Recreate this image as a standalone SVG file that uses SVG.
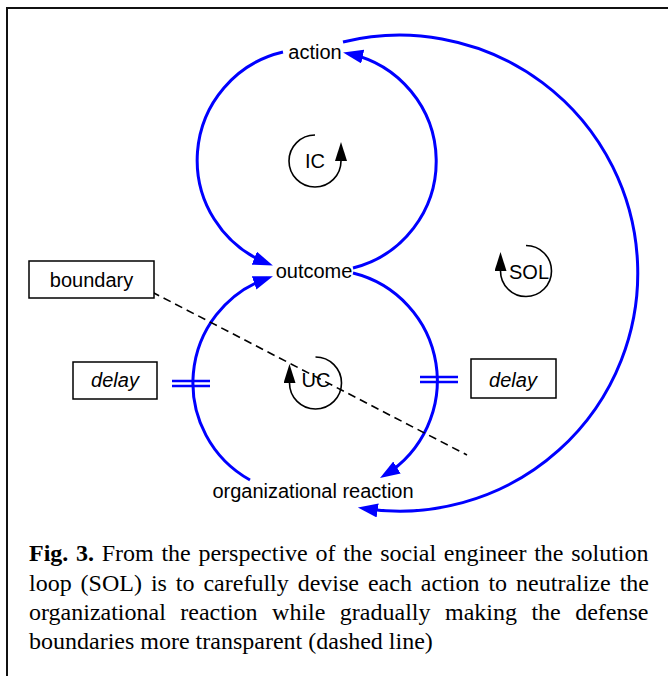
<svg xmlns="http://www.w3.org/2000/svg" width="668" height="676" viewBox="0 0 668 676">
  <style>
    .flow { fill: none; stroke: #0000ff; stroke-width: 3; }
    .tick { fill: none; stroke: #0000ff; stroke-width: 2.5; }
    .bound { fill: none; stroke: #000; stroke-width: 1.6; stroke-dasharray: 8 5; }
    .box { fill: #fff; stroke: #000; stroke-width: 1.5; }
    .loop { fill: none; stroke: #000; stroke-width: 1.6; }
    .lbl { font-family: "Liberation Sans", Arial, sans-serif; font-size: 20px; text-anchor: middle; fill: #000; }
    .it { font-style: italic; }
    .cap { font-family: "Liberation Serif", "Times New Roman", serif; font-size: 24px; fill: #000; }
  </style>
  <defs>
    <marker id="head" markerUnits="userSpaceOnUse" markerWidth="22" markerHeight="16" refX="14" refY="7" orient="auto">
      <path d="M0,0 L20,7 L0,14 Z" fill="#0000ff"/>
    </marker>
    <marker id="polarity" markerUnits="userSpaceOnUse" markerWidth="20" markerHeight="14" refX="0" refY="6" orient="auto">
      <path d="M0,0 L19,6 L0,12 Z" fill="#000"/>
    </marker>
  </defs>

  <rect width="668" height="676" fill="#fff"/>
  <!-- frame -->
  <path d="M668,8 H7 V676" fill="none" stroke="#111" stroke-width="2"/>

  <!-- causal links -->
  <g id="connectors">
    <!-- IC loop: action -> outcome -> action -->
    <path class="flow" d="M283,52 A111,111 0 0,0 267.3,263.3" marker-end="url(#head)"/>
    <path class="flow" d="M353,268 A110,110 0 0,0 349,53.7" marker-end="url(#head)"/>
    <!-- UC loop: outcome -> organizational reaction -> outcome -->
    <path class="flow" d="M353,273 A111,111 0 0,1 385.1,474.9" marker-end="url(#head)"/>
    <path class="flow" d="M250,480 A111,111 0 0,1 267.3,278.2" marker-end="url(#head)"/>
    <!-- SOL loop: action -> organizational reaction -->
    <path class="flow" d="M343,42 A238,238 0 1,1 363.8,508.4" marker-end="url(#head)"/>
    <!-- delay marks -->
    <path class="tick" d="M172,381 H210 M172,386 H210"/>
    <path class="tick" d="M420,377 H458 M420,382 H458"/>
    <!-- defense boundary -->
    <path class="bound" d="M152,292 L467,455"/>
  </g>

  <g id="action"><text class="lbl" x="315" y="59">action</text></g>
  <g id="outcome"><text class="lbl" x="314" y="278">outcome</text></g>
  <g id="organizational-reaction"><text class="lbl" x="313" y="498">organizational reaction</text></g>

  <g id="boundary">
    <rect class="box" x="29" y="261" width="125" height="37"/>
    <text class="lbl" x="91.5" y="287">boundary</text>
  </g>
  <g id="delay-left">
    <rect class="box" x="73" y="362" width="84" height="37"/>
    <text class="lbl it" x="115" y="387">delay</text>
  </g>
  <g id="delay-right">
    <rect class="box" x="471" y="359" width="85" height="39"/>
    <text class="lbl it" x="513" y="387">delay</text>
  </g>

  <!-- loop identifiers -->
  <g id="loop-IC">
    <path class="loop" d="M315,135 A26,26 0 1,0 341,161" marker-end="url(#polarity)"/>
    <text class="lbl" x="315" y="168">IC</text>
  </g>
  <g id="loop-UC">
    <path class="loop" d="M315.5,357 A26,26 0 1,1 289.5,383" marker-end="url(#polarity)"/>
    <text class="lbl" x="316" y="387">UC</text>
  </g>
  <g id="loop-SOL">
    <path class="loop" d="M526,245.5 A25.5,25.5 0 1,1 500.5,271" marker-end="url(#polarity)"/>
    <text class="lbl" x="529" y="279">SOL</text>
  </g>

  <!-- caption -->
  <g id="caption" class="cap">
    <text x="29" y="561" word-spacing="1.7"><tspan font-weight="bold">Fig. 3.</tspan> From the perspective of the social engineer the solution</text>
    <text x="29" y="591" word-spacing="2.95">loop (SOL) is to carefully devise each action to neutralize the</text>
    <text x="29" y="620" word-spacing="8.47">organizational reaction while gradually making the defense</text>
    <text x="29" y="649">boundaries more transparent (dashed line)</text>
  </g>
</svg>
